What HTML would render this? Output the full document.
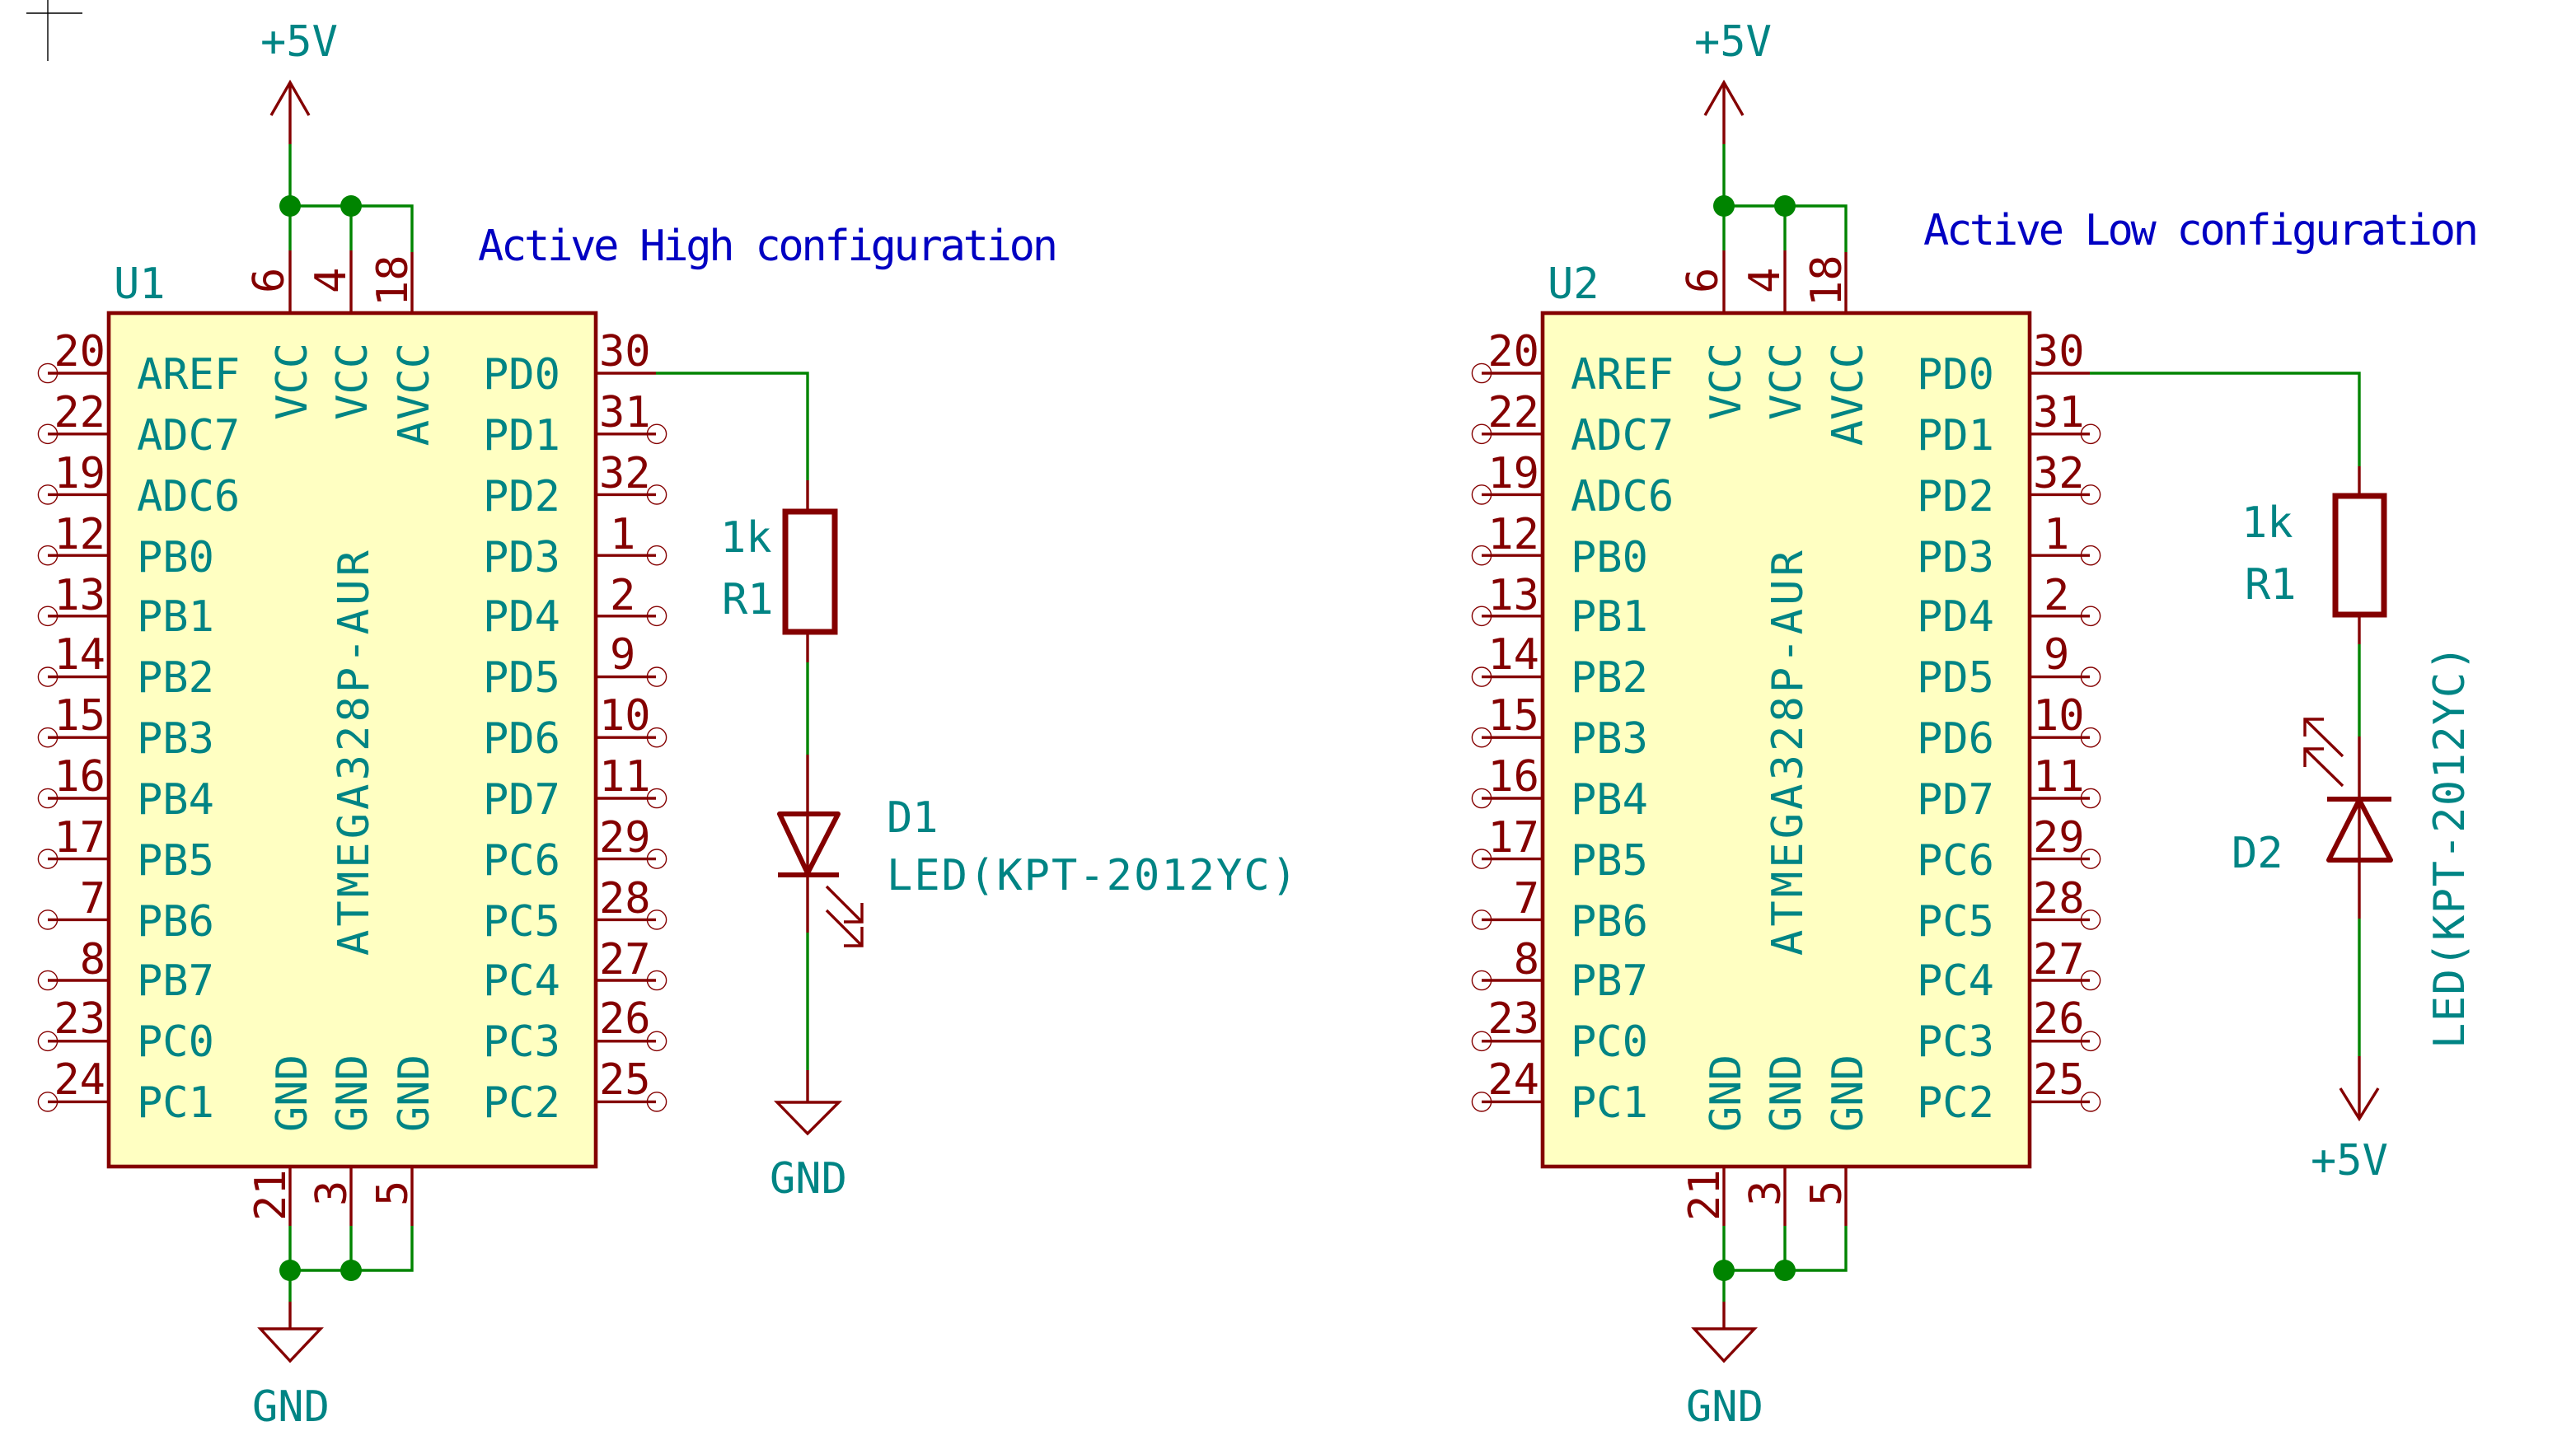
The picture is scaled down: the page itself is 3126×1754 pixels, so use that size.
<!DOCTYPE html>
<html><head><meta charset="utf-8"><style>
html,body{margin:0;padding:0;background:#fff;}
svg{display:block;}
.t{font-family:"DejaVu Sans Mono","Liberation Mono",monospace;font-size:26px;fill:#008484;}
.n{font-family:"DejaVu Sans Mono","Liberation Mono",monospace;font-size:26px;fill:#840000;}
.b{font-family:"DejaVu Sans Mono","Liberation Mono",monospace;font-size:26px;fill:#0000c2;}
.p{stroke:#840000;stroke-width:1.7;fill:none;}
.w{stroke:#008400;stroke-width:1.7;fill:none;}
.c{stroke:#840000;stroke-width:0.7;fill:none;}
</style></head><body>
<svg width="3126" height="1754" viewBox="0 0 1563 877" xmlns="http://www.w3.org/2000/svg">
<rect width="1563" height="877" fill="#fff"/>
<path d="M29 0V37M16 8H50" stroke="#000" stroke-width="0.7"/>

<!-- ================= CHIP 1 ================= -->
<g>
<rect x="66" y="190" width="295.5" height="518" fill="#ffffc2" stroke="#840000" stroke-width="2.3"/>
<!-- left pins -->
<path class="p" d="M29 226.5H66M29 263.4H66M29 300.2H66M29 337.1H66M29 373.9H66M29 410.8H66M29 447.6H66M29 484.5H66M29 521.3H66M29 558.2H66M29 595H66M29 631.9H66M29 668.7H66"/>
<g class="c"><circle cx="29" cy="226.5" r="5.8"/><circle cx="29" cy="263.4" r="5.8"/><circle cx="29" cy="300.2" r="5.8"/><circle cx="29" cy="337.1" r="5.8"/><circle cx="29" cy="373.9" r="5.8"/><circle cx="29" cy="410.8" r="5.8"/><circle cx="29" cy="447.6" r="5.8"/><circle cx="29" cy="484.5" r="5.8"/><circle cx="29" cy="521.3" r="5.8"/><circle cx="29" cy="558.2" r="5.8"/><circle cx="29" cy="595" r="5.8"/><circle cx="29" cy="631.9" r="5.8"/><circle cx="29" cy="668.7" r="5.8"/></g>
<g class="n" text-anchor="end">
<text x="64" y="222">20</text><text x="64" y="259">22</text><text x="64" y="296">19</text><text x="64" y="333">12</text><text x="64" y="370">13</text><text x="64" y="406">14</text><text x="64" y="443">15</text><text x="64" y="480">16</text><text x="64" y="517">17</text><text x="64" y="554">7</text><text x="64" y="591">8</text><text x="64" y="627">23</text><text x="64" y="664">24</text>
</g>
<g class="t">
<text x="83" y="236">AREF</text><text x="83" y="273">ADC7</text><text x="83" y="310">ADC6</text><text x="83" y="347">PB0</text><text x="83" y="383">PB1</text><text x="83" y="420">PB2</text><text x="83" y="457">PB3</text><text x="83" y="494">PB4</text><text x="83" y="531">PB5</text><text x="83" y="568">PB6</text><text x="83" y="604">PB7</text><text x="83" y="641">PC0</text><text x="83" y="678">PC1</text>
</g>
<!-- right pins -->
<path class="p" d="M361 226.5H398M361 263.4H398M361 300.2H398M361 337.1H398M361 373.9H398M361 410.8H398M361 447.6H398M361 484.5H398M361 521.3H398M361 558.2H398M361 595H398M361 631.9H398M361 668.7H398"/>
<g class="c"><circle cx="398.5" cy="263.4" r="5.8"/><circle cx="398.5" cy="300.2" r="5.8"/><circle cx="398.5" cy="337.1" r="5.8"/><circle cx="398.5" cy="373.9" r="5.8"/><circle cx="398.5" cy="410.8" r="5.8"/><circle cx="398.5" cy="447.6" r="5.8"/><circle cx="398.5" cy="484.5" r="5.8"/><circle cx="398.5" cy="521.3" r="5.8"/><circle cx="398.5" cy="558.2" r="5.8"/><circle cx="398.5" cy="595" r="5.8"/><circle cx="398.5" cy="631.9" r="5.8"/><circle cx="398.5" cy="668.7" r="5.8"/></g>
<g class="n">
<text x="363.5" y="222">30</text><text x="363.5" y="259">31</text><text x="363.5" y="296">32</text><text x="370" y="333">1</text><text x="370" y="370">2</text><text x="370" y="406">9</text><text x="363.5" y="443">10</text><text x="363.5" y="480">11</text><text x="363.5" y="517">29</text><text x="363.5" y="554">28</text><text x="363.5" y="591">27</text><text x="363.5" y="627">26</text><text x="363.5" y="664">25</text>
</g>
<g class="t">
<text x="293" y="236">PD0</text><text x="293" y="273">PD1</text><text x="293" y="310">PD2</text><text x="293" y="347">PD3</text><text x="293" y="383">PD4</text><text x="293" y="420">PD5</text><text x="293" y="457">PD6</text><text x="293" y="494">PD7</text><text x="293" y="531">PC6</text><text x="293" y="568">PC5</text><text x="293" y="604">PC4</text><text x="293" y="641">PC3</text><text x="293" y="678">PC2</text>
</g>
<!-- top pins -->
<path class="p" d="M176 190V152M213 190V152M250 190V153"/>
<path class="w" d="M176 152V125M213 152V125M250 153V125H176"/>
<path class="w" d="M176 125V87.5"/>
<path class="p" d="M176 87.5V50M164.5 70L176 50L187.5 70"/>
<circle cx="176" cy="125" r="6.5" fill="#008400"/><circle cx="213" cy="125" r="6.5" fill="#008400"/>
<text class="t" x="158" y="34">+5V</text>
<text class="n" transform="translate(172,178) rotate(-90)">6</text>
<text class="n" transform="translate(209.5,178) rotate(-90)">4</text>
<text class="n" transform="translate(247,186) rotate(-90)">18</text>
<text class="t" text-anchor="end" transform="translate(186,208) rotate(-90)">VCC</text>
<text class="t" text-anchor="end" transform="translate(222.5,208) rotate(-90)">VCC</text>
<text class="t" text-anchor="end" transform="translate(260,208) rotate(-90)">AVCC</text>
<text class="t" transform="translate(223.5,580) rotate(-90)" textLength="246" lengthAdjust="spacing">ATMEGA328P-AUR</text>
<text class="t" x="69" y="181">U1</text>
<!-- bottom pins -->
<path class="p" d="M176 708V744M213 708V744M250 708V744"/>
<path class="w" d="M176 744V771M213 744V771M250 744V771H176M176 771V790"/>
<path class="p" d="M176 790V806.5M158 806.5H194.5L176 826Z"/>
<circle cx="176" cy="771" r="6.5" fill="#008400"/><circle cx="213" cy="771" r="6.5" fill="#008400"/>
<text class="t" x="153" y="862.5">GND</text>
<text class="n" transform="translate(173,741) rotate(-90)">21</text>
<text class="n" transform="translate(210,732) rotate(-90)">3</text>
<text class="n" transform="translate(247,732) rotate(-90)">5</text>
<text class="t" transform="translate(186,687) rotate(-90)">GND</text>
<text class="t" transform="translate(222.5,687) rotate(-90)">GND</text>
<text class="t" transform="translate(260,687) rotate(-90)">GND</text>
</g>
<text class="b" x="290" y="158" textLength="352" lengthAdjust="spacing">Active High configuration</text>

<!-- circuit 1 -->
<path class="w" d="M398 226.5H490V291.5"/>
<path class="p" d="M490 291.5V309M490 384V402"/>
<rect x="476.5" y="310.5" width="30" height="73" fill="none" stroke="#840000" stroke-width="3.5"/>
<path class="w" d="M490 402V458"/>
<path class="p" d="M490 458V566" />
<path d="M473 494H508.5L490 530Z M472 531H509" stroke="#840000" stroke-width="3" fill="none" stroke-linejoin="round"/>
<path class="p" d="M501.5 538L523 559.5M512 559.5H523V548M501.5 552.5L523 574M512 574H523V562.5"/>
<path class="w" d="M490 566V649.5"/>
<path class="p" d="M490 649.5V669M471.5 669H509L490 688Z"/>
<text class="t" x="467" y="724">GND</text>
<text class="t" x="437" y="335">1k</text>
<text class="t" x="438" y="372.5">R1</text>
<text class="t" x="538" y="505">D1</text>
<text class="t" x="538" y="540" textLength="249" lengthAdjust="spacing">LED(KPT-2012YC)</text>

<!-- ================= CHIP 2 ================= -->
<g transform="translate(870,0)">
<rect x="66" y="190" width="295.5" height="518" fill="#ffffc2" stroke="#840000" stroke-width="2.3"/>
<path class="p" d="M29 226.5H66M29 263.4H66M29 300.2H66M29 337.1H66M29 373.9H66M29 410.8H66M29 447.6H66M29 484.5H66M29 521.3H66M29 558.2H66M29 595H66M29 631.9H66M29 668.7H66"/>
<g class="c"><circle cx="29" cy="226.5" r="5.8"/><circle cx="29" cy="263.4" r="5.8"/><circle cx="29" cy="300.2" r="5.8"/><circle cx="29" cy="337.1" r="5.8"/><circle cx="29" cy="373.9" r="5.8"/><circle cx="29" cy="410.8" r="5.8"/><circle cx="29" cy="447.6" r="5.8"/><circle cx="29" cy="484.5" r="5.8"/><circle cx="29" cy="521.3" r="5.8"/><circle cx="29" cy="558.2" r="5.8"/><circle cx="29" cy="595" r="5.8"/><circle cx="29" cy="631.9" r="5.8"/><circle cx="29" cy="668.7" r="5.8"/></g>
<g class="n" text-anchor="end">
<text x="64" y="222">20</text><text x="64" y="259">22</text><text x="64" y="296">19</text><text x="64" y="333">12</text><text x="64" y="370">13</text><text x="64" y="406">14</text><text x="64" y="443">15</text><text x="64" y="480">16</text><text x="64" y="517">17</text><text x="64" y="554">7</text><text x="64" y="591">8</text><text x="64" y="627">23</text><text x="64" y="664">24</text>
</g>
<g class="t">
<text x="83" y="236">AREF</text><text x="83" y="273">ADC7</text><text x="83" y="310">ADC6</text><text x="83" y="347">PB0</text><text x="83" y="383">PB1</text><text x="83" y="420">PB2</text><text x="83" y="457">PB3</text><text x="83" y="494">PB4</text><text x="83" y="531">PB5</text><text x="83" y="568">PB6</text><text x="83" y="604">PB7</text><text x="83" y="641">PC0</text><text x="83" y="678">PC1</text>
</g>
<path class="p" d="M361 226.5H398M361 263.4H398M361 300.2H398M361 337.1H398M361 373.9H398M361 410.8H398M361 447.6H398M361 484.5H398M361 521.3H398M361 558.2H398M361 595H398M361 631.9H398M361 668.7H398"/>
<g class="c"><circle cx="398.5" cy="263.4" r="5.8"/><circle cx="398.5" cy="300.2" r="5.8"/><circle cx="398.5" cy="337.1" r="5.8"/><circle cx="398.5" cy="373.9" r="5.8"/><circle cx="398.5" cy="410.8" r="5.8"/><circle cx="398.5" cy="447.6" r="5.8"/><circle cx="398.5" cy="484.5" r="5.8"/><circle cx="398.5" cy="521.3" r="5.8"/><circle cx="398.5" cy="558.2" r="5.8"/><circle cx="398.5" cy="595" r="5.8"/><circle cx="398.5" cy="631.9" r="5.8"/><circle cx="398.5" cy="668.7" r="5.8"/></g>
<g class="n">
<text x="363.5" y="222">30</text><text x="363.5" y="259">31</text><text x="363.5" y="296">32</text><text x="370" y="333">1</text><text x="370" y="370">2</text><text x="370" y="406">9</text><text x="363.5" y="443">10</text><text x="363.5" y="480">11</text><text x="363.5" y="517">29</text><text x="363.5" y="554">28</text><text x="363.5" y="591">27</text><text x="363.5" y="627">26</text><text x="363.5" y="664">25</text>
</g>
<g class="t">
<text x="293" y="236">PD0</text><text x="293" y="273">PD1</text><text x="293" y="310">PD2</text><text x="293" y="347">PD3</text><text x="293" y="383">PD4</text><text x="293" y="420">PD5</text><text x="293" y="457">PD6</text><text x="293" y="494">PD7</text><text x="293" y="531">PC6</text><text x="293" y="568">PC5</text><text x="293" y="604">PC4</text><text x="293" y="641">PC3</text><text x="293" y="678">PC2</text>
</g>
<path class="p" d="M176 190V152M213 190V152M250 190V153"/>
<path class="w" d="M176 152V125M213 152V125M250 153V125H176"/>
<path class="w" d="M176 125V87.5"/>
<path class="p" d="M176 87.5V50M164.5 70L176 50L187.5 70"/>
<circle cx="176" cy="125" r="6.5" fill="#008400"/><circle cx="213" cy="125" r="6.5" fill="#008400"/>
<text class="t" x="158" y="34">+5V</text>
<text class="n" transform="translate(172,178) rotate(-90)">6</text>
<text class="n" transform="translate(209.5,178) rotate(-90)">4</text>
<text class="n" transform="translate(247,186) rotate(-90)">18</text>
<text class="t" text-anchor="end" transform="translate(186,208) rotate(-90)">VCC</text>
<text class="t" text-anchor="end" transform="translate(222.5,208) rotate(-90)">VCC</text>
<text class="t" text-anchor="end" transform="translate(260,208) rotate(-90)">AVCC</text>
<text class="t" transform="translate(223.5,580) rotate(-90)" textLength="246" lengthAdjust="spacing">ATMEGA328P-AUR</text>
<text class="t" x="69" y="181">U2</text>
<path class="p" d="M176 708V744M213 708V744M250 708V744"/>
<path class="w" d="M176 744V771M213 744V771M250 744V771H176M176 771V790"/>
<path class="p" d="M176 790V806.5M158 806.5H194.5L176 826Z"/>
<circle cx="176" cy="771" r="6.5" fill="#008400"/><circle cx="213" cy="771" r="6.5" fill="#008400"/>
<text class="t" x="153" y="862.5">GND</text>
<text class="n" transform="translate(173,741) rotate(-90)">21</text>
<text class="n" transform="translate(210,732) rotate(-90)">3</text>
<text class="n" transform="translate(247,732) rotate(-90)">5</text>
<text class="t" transform="translate(186,687) rotate(-90)">GND</text>
<text class="t" transform="translate(222.5,687) rotate(-90)">GND</text>
<text class="t" transform="translate(260,687) rotate(-90)">GND</text>
</g>
<text class="b" x="1167" y="148.5" textLength="337" lengthAdjust="spacing">Active Low configuration</text>

<!-- circuit 2 -->
<path class="w" d="M1268 226.5H1431.5V283"/>
<path class="p" d="M1431.5 283V300M1431.5 374V391"/>
<rect x="1417" y="301" width="29.5" height="72" fill="none" stroke="#840000" stroke-width="3.5"/>
<path class="w" d="M1431.5 391V447"/>
<path class="p" d="M1431.5 447V557.5"/>
<path d="M1413 522H1450.5L1431.5 485.5Z M1412 485H1451" stroke="#840000" stroke-width="3" fill="none" stroke-linejoin="round"/>
<path class="p" d="M1421.5 459L1398.5 436.5M1410 436.5H1398.5V447M1421.5 477L1398.5 454.5M1410 454.5H1398.5V465.5"/>
<path class="w" d="M1431.5 557.5V641"/>
<path class="p" d="M1431.5 641V679M1420 660.5L1431.5 679L1443 660.5"/>
<text class="t" x="1402" y="713">+5V</text>
<text class="t" x="1360" y="326">1k</text>
<text class="t" x="1362" y="363.5">R1</text>
<text class="t" x="1354" y="526.5">D2</text>
<text class="t" transform="translate(1495,636.5) rotate(-90)" textLength="245" lengthAdjust="spacing">LED(KPT-2012YC)</text>
</svg>
</body></html>
